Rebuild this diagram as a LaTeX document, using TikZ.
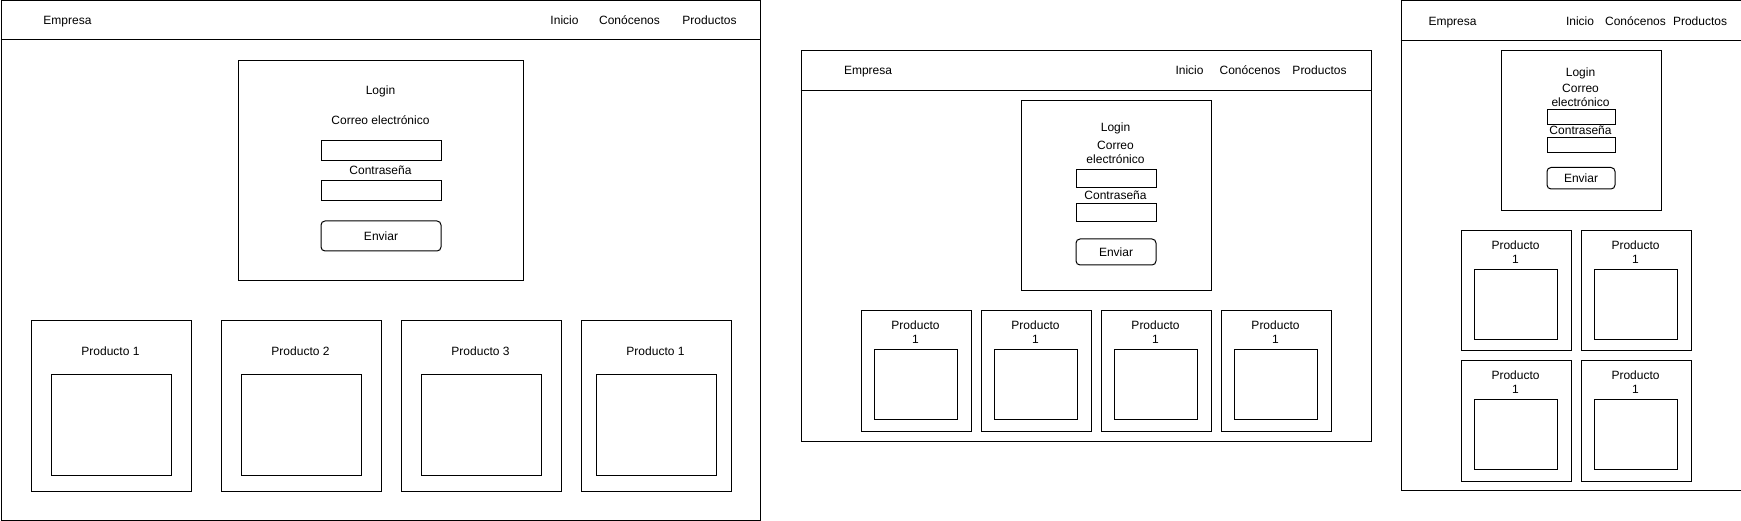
\documentclass[tikz,border=0pt]{standalone}
\usepackage{fontspec}
\setmainfont{Liberation Sans}
\usetikzlibrary{positioning}

\begin{document}
\begin{tikzpicture}[
    x=1pt, y=-1pt, line width=1pt,
    wbox/.style={rectangle, draw, inner sep=0pt, anchor=north west},
    dim/.style 2 args={minimum width=#1pt, minimum height=#2pt},
    txt/.style={inner sep=0pt, font=\fontsize{12}{14}\selectfont, text height=8.6pt, text depth=0pt},
    txtml/.style={inner sep=0pt, font=\fontsize{12}{14}\selectfont, align=center},
    btn/.style={wbox, txt, rounded corners=4pt}
]
\useasboundingbox (0,0) rectangle (1741,521);

\node[wbox, dim={759.5}{519.5}] (page1) at (0.5,0.5) {};
\draw ([yshift=-39.5pt]page1.north west) -- ([yshift=-39.5pt]page1.north east);
\node[txt] (brand1) at (67.5,20.5) {Empresa};
\node[txt] (home1) at (564.5,20.5) {Inicio};
\node[txt] (about1) at (629.5,20.5) {Conócenos};
\node[txt] (shop1) at (709.5,20.5) {Productos};
\node[wbox, dim={285}{220}] (login1) at (238,60.5) {};
\node[txt] (ttl1) at (380.5,90.5) {Login};
\node[txt] (mail1) at (380.5,120.5) {Correo electrónico};
\node[wbox, dim={120}{20}] (mailbox1) at (320.5,140.5) {};
\node[txt] (pass1) at (380.5,170.5) {Contraseña};
\node[wbox, dim={120}{20}] (passbox1) at (320.5,180.5) {};
\node[btn, dim={120}{30}] (send1) at (320.5,220.5) {Enviar};
\node[wbox, dim={160}{170}] (card1a) at (30.5,320.5) {};
\node[txt] (name1a) at (110.5,351) {Producto 1};
\node[wbox, dim={120}{100}] (pic1a) at (50.5,374.5) {};
\node[wbox, dim={160}{170}] (card1b) at (220.5,320.5) {};
\node[txt] (name1b) at (300.5,351) {Producto 2};
\node[wbox, dim={120}{100}] (pic1b) at (240.5,374.5) {};
\node[wbox, dim={160}{170}] (card1c) at (400.5,320.5) {};
\node[txt] (name1c) at (480.5,351) {Producto 3};
\node[wbox, dim={120}{100}] (pic1c) at (420.5,374.5) {};
\node[wbox, dim={150}{170}] (card1d) at (580.5,320.5) {};
\node[txt] (name1d) at (655.5,351) {Producto 1};
\node[wbox, dim={120}{100}] (pic1d) at (595.5,374.5) {};

\node[wbox, dim={570}{390}] (page2) at (800.5,50.5) {};
\draw ([yshift=-40pt]page2.north west) -- ([yshift=-40pt]page2.north east);
\node[txt] (brand2) at (868,70.5) {Empresa};
\node[txt] (home2) at (1189.5,70.5) {Inicio};
\node[txt] (about2) at (1250,70.5) {Conócenos};
\node[txt] (shop2) at (1319.5,70.5) {Productos};
\node[wbox, dim={190}{190}] (login2) at (1020.5,100.5) {};
\node[txt] (ttl2) at (1115.5,127.5) {Login};
\node[txtml] (mail2) at (1115.5,152.5) {Correo\\electrónico};
\node[wbox, dim={80}{18}] (mailbox2) at (1075.5,169.5) {};
\node[txt] (pass2) at (1115.5,195.5) {Contraseña};
\node[wbox, dim={80}{18}] (passbox2) at (1075.5,203.5) {};
\node[btn, dim={80}{26}] (send2) at (1075.5,238.5) {Enviar};
\node[wbox, dim={110}{120}] (card2a) at (860.5,310.5) {};
\node[txtml] (name2a) at (915.5,332) {Producto\\1};
\node[wbox, dim={83}{70}] (pic2a) at (874,349) {};
\node[wbox, dim={110}{120}] (card2b) at (980.5,310.5) {};
\node[txtml] (name2b) at (1035.5,332) {Producto\\1};
\node[wbox, dim={83}{70}] (pic2b) at (994,349) {};
\node[wbox, dim={110}{120}] (card2c) at (1100.5,310.5) {};
\node[txtml] (name2c) at (1155.5,332) {Producto\\1};
\node[wbox, dim={83}{70}] (pic2c) at (1114,349) {};
\node[wbox, dim={110}{120}] (card2d) at (1220.5,310.5) {};
\node[txtml] (name2d) at (1275.5,332) {Producto\\1};
\node[wbox, dim={83}{70}] (pic2d) at (1234,349) {};

\node[wbox, dim={340}{489.5}] (page3) at (1400.5,0.5) {};
\draw ([yshift=-40pt]page3.north west) -- ([yshift=-40pt]page3.north east);
\node[txt] (brand3) at (1452.5,21) {Empresa};
\node[txt] (home3) at (1580,21) {Inicio};
\node[txt] (about3) at (1635.5,21) {Conócenos};
\node[txt] (shop3) at (1700,21) {Productos};
\node[wbox, dim={160}{160}] (login3) at (1500.5,50.5) {};
\node[txt] (ttl3) at (1580.5,72.5) {Login};
\node[txtml] (mail3) at (1580.5,95) {Correo\\electrónico};
\node[wbox, dim={68}{15}] (mailbox3) at (1546.5,109) {};
\node[txt] (pass3) at (1580.5,130.5) {Contraseña};
\node[wbox, dim={68}{15}] (passbox3) at (1546.5,137.5) {};
\node[btn, dim={68}{21.5}] (send3) at (1546.5,167) {Enviar};
\node[wbox, dim={110}{120}] (card3a) at (1460.5,230.5) {};
\node[txtml] (name3a) at (1515.5,252) {Producto\\1};
\node[wbox, dim={83}{70}] (pic3a) at (1474,269) {};
\node[wbox, dim={110}{120}] (card3b) at (1580.5,230.5) {};
\node[txtml] (name3b) at (1635.5,252) {Producto\\1};
\node[wbox, dim={83}{70}] (pic3b) at (1594,269) {};
\node[wbox, dim={110}{120}] (card3c) at (1460.5,360.5) {};
\node[txtml] (name3c) at (1515.5,382.5) {Producto\\1};
\node[wbox, dim={83}{70}] (pic3c) at (1474,399) {};
\node[wbox, dim={110}{120}] (card3d) at (1580.5,360.5) {};
\node[txtml] (name3d) at (1635.5,382.5) {Producto\\1};
\node[wbox, dim={83}{70}] (pic3d) at (1594,399) {};
\end{tikzpicture}
\end{document}
